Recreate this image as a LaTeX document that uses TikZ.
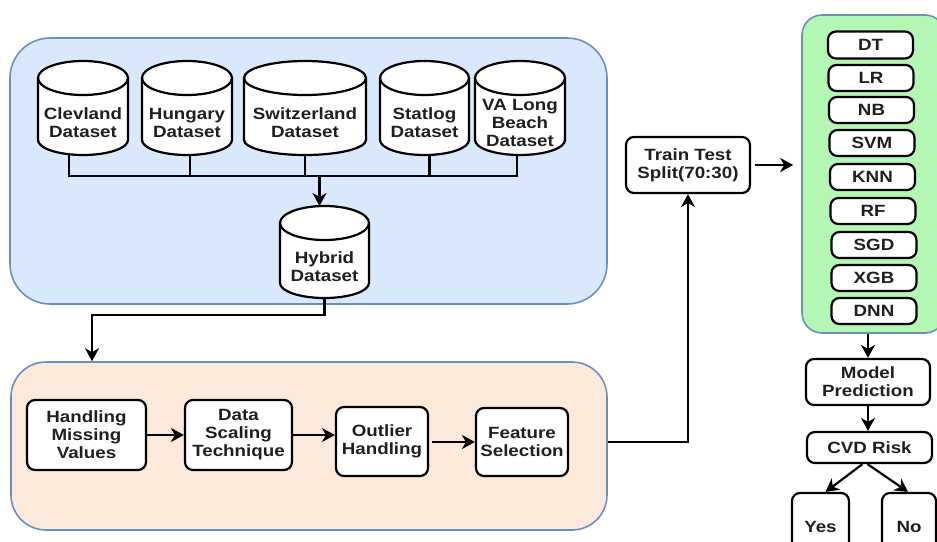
\documentclass[tikz,border=0pt]{standalone}
\usepackage{fontspec}
\newfontfamily\diafont{Liberation Sans}[FakeStretch=1.15]
\usetikzlibrary{arrows.meta,calc}
\definecolor{bluefill}{HTML}{DAE8FC}
\definecolor{bluestroke}{HTML}{6C8EBF}
\definecolor{peach}{HTML}{FBE9DB}
\definecolor{greenfill}{HTML}{B4F6B4}
\pgfdeclarelayer{bgzero}
\pgfdeclarelayer{bgone}
\pgfsetlayers{bgzero,bgone,main}
\newcommand{\dbcyl}[6]{%
  \pgfmathsetmacro\cylcx{(#2+#3)/2}%
  \pgfmathsetmacro\cylrx{(#3-#2)/2}%
  \pgfmathsetmacro\cylya{#4+17}%
  \pgfmathsetmacro\cylyb{#5-15}%
  \pgfmathsetmacro\cylyt{(#4+34+#5)/2-2}%
  \path[cylstyle] (#2,\cylya) -- (#2,\cylyb) arc[start angle=180,end angle=0,x radius=\cylrx,y radius=15] -- (#3,\cylya) arc[start angle=0,end angle=-180,x radius=\cylrx,y radius=17] -- cycle;
  \draw[cylline] (#2,\cylya) arc[start angle=180,end angle=0,x radius=\cylrx,y radius=17];
  \node (#1) at (\cylcx,\cylyt) {#6};
  \coordinate (#1-t) at (\cylcx,#4);
  \coordinate (#1-b) at (\cylcx,#5);
}
\begin{document}
\begin{tikzpicture}[x=1pt,y=-1pt,
  every node/.style={font=\diafont\bfseries\fontsize{16.3}{18}\selectfont, align=center, inner sep=0pt, text=black!88},
  box/.style={draw=black, line width=2.2pt, rounded corners=8pt, fill=white},
  group/.style={draw=bluestroke, line width=1.6pt, rounded corners=#1},
  line/.style={draw=black, line width=2.2pt},
  arr/.style={line, -{Stealth[length=13pt,width=14pt,inset=4pt]}},
  cylstyle/.style={draw=black, line width=2.2pt, fill=white},
  cylline/.style={draw=black, line width=2.2pt},
]
\useasboundingbox (0,0) rectangle (937,541);
\clip (0,0) rectangle (937,541);

% containers
\begin{pgfonlayer}{bgzero}
\node[group=40pt, fill=bluefill, minimum width=597pt, minimum height=266pt] (data) at (308.5,171) {};
\node[group=35pt, fill=peach, minimum width=596pt, minimum height=168pt] (prep) at (309,446) {};
\node[group=20pt, fill=greenfill, minimum width=143pt, minimum height=318pt] (models) at (873.5,174) {};
\end{pgfonlayer}

% datasets
\dbcyl{clev}{38}{128}{61}{155}{Clevland\\Dataset}
\dbcyl{hun}{142}{232}{61}{155}{Hungary\\Dataset}
\dbcyl{swi}{244}{366}{61}{155}{Switzerland\\Dataset}
\dbcyl{stat}{380}{469}{61}{155}{Statlog\\Dataset}
\dbcyl{va}{475}{565}{61}{155}{VA Long\\Beach\\Dataset}
\dbcyl{hyb}{280}{369}{206}{298}{Hybrid\\Dataset}

% bus connectors (beneath cylinders)
\begin{pgfonlayer}{bgone}
\coordinate (busR) at (517,176);
\draw[line] ([xshift=-14pt]clev-b) |- (busR) -- ([xshift=-3pt]va-b);
\draw[line] ([xshift=3pt]hun-b) -- ([xshift=3pt]hun-b |- busR);
\draw[line] (swi-b) -- (swi-b |- busR);
\draw[line] ([xshift=5pt]stat-b) -- ([xshift=5pt]stat-b |- busR);
\draw[arr] ([xshift=-5pt]hyb-t |- busR) -- ([xshift=-5pt]hyb-t);
\draw[line] (hyb-b) -- ++(0,2);
\end{pgfonlayer}

% preprocessing
\node[box, minimum width=119pt, minimum height=70pt] (miss) at (86.5,435) {Handling\\Missing\\Values};
\node[box, minimum width=107pt, minimum height=70pt] (scale) at (238.5,435) {Data\\Scaling\\Technique};
\node[box, minimum width=92pt, minimum height=69pt] (outl) at (382,441.5) {Outlier\\Handling};
\node[box, minimum width=92pt, minimum height=68pt] (feat) at (522,442) {Feature\\Selection};

\coordinate (bend) at (92,315);
\draw[arr] (hyb-b) |- (bend) -- (bend |- prep.north);
\draw[arr] (miss.east) -- (scale.west);
\draw[arr] (scale.east) -- (scale.east -| outl.west);
\draw[arr] ([xshift=3pt]outl.east |- feat.west) -- (feat.west);

% split
\node[box, minimum width=124pt, minimum height=56pt] (split) at (688,165) {Train Test\\Split(70:30)};
\draw[arr] ([yshift=4pt]prep.east) -| (split.south);
\draw[arr, shorten <=4pt, shorten >=8pt] (split.east) -- (split.east -| models.west);

% models
\node[box, minimum width=85pt, minimum height=27pt] (dt) at (870.5,45) {DT};
\node[box, minimum width=85pt, minimum height=26pt] (lr) at (871,78) {LR};
\node[box, minimum width=85pt, minimum height=26pt] (nb) at (871.5,110) {NB};
\node[box, minimum width=85pt, minimum height=26pt] (svm) at (872,143) {SVM};
\node[box, minimum width=85pt, minimum height=26pt] (knn) at (872.5,177) {KNN};
\node[box, minimum width=85pt, minimum height=26pt] (rf) at (873,211) {RF};
\node[box, minimum width=85pt, minimum height=26pt] (sgd) at (874,245) {SGD};
\node[box, minimum width=85pt, minimum height=26pt] (xgb) at (874,278) {XGB};
\node[box, minimum width=85pt, minimum height=26pt] (dnn) at (874,311) {DNN};

% outcome
\node[box, minimum width=124pt, minimum height=46pt] (pred) at (868,382) {Model\\Prediction};
\node[box, minimum width=125pt, minimum height=31pt] (cvd) at (869.5,447.5) {CVD Risk};
\node[box, minimum width=57pt, minimum height=68pt] (yes) at (820.5,527) {Yes};
\node[box, minimum width=54pt, minimum height=68pt] (no) at (909,527) {No};

\draw[arr] (pred.north |- models.south) -- (pred.north);
\draw[arr] (pred.south) -- (pred.south |- cvd.north);
\draw[arr] ([xshift=-7pt]cvd.south) -- ([xshift=5pt]yes.north);
\draw[arr] ([xshift=-2pt]cvd.south) -- ([xshift=-1pt]no.north);
\end{tikzpicture}
\end{document}
